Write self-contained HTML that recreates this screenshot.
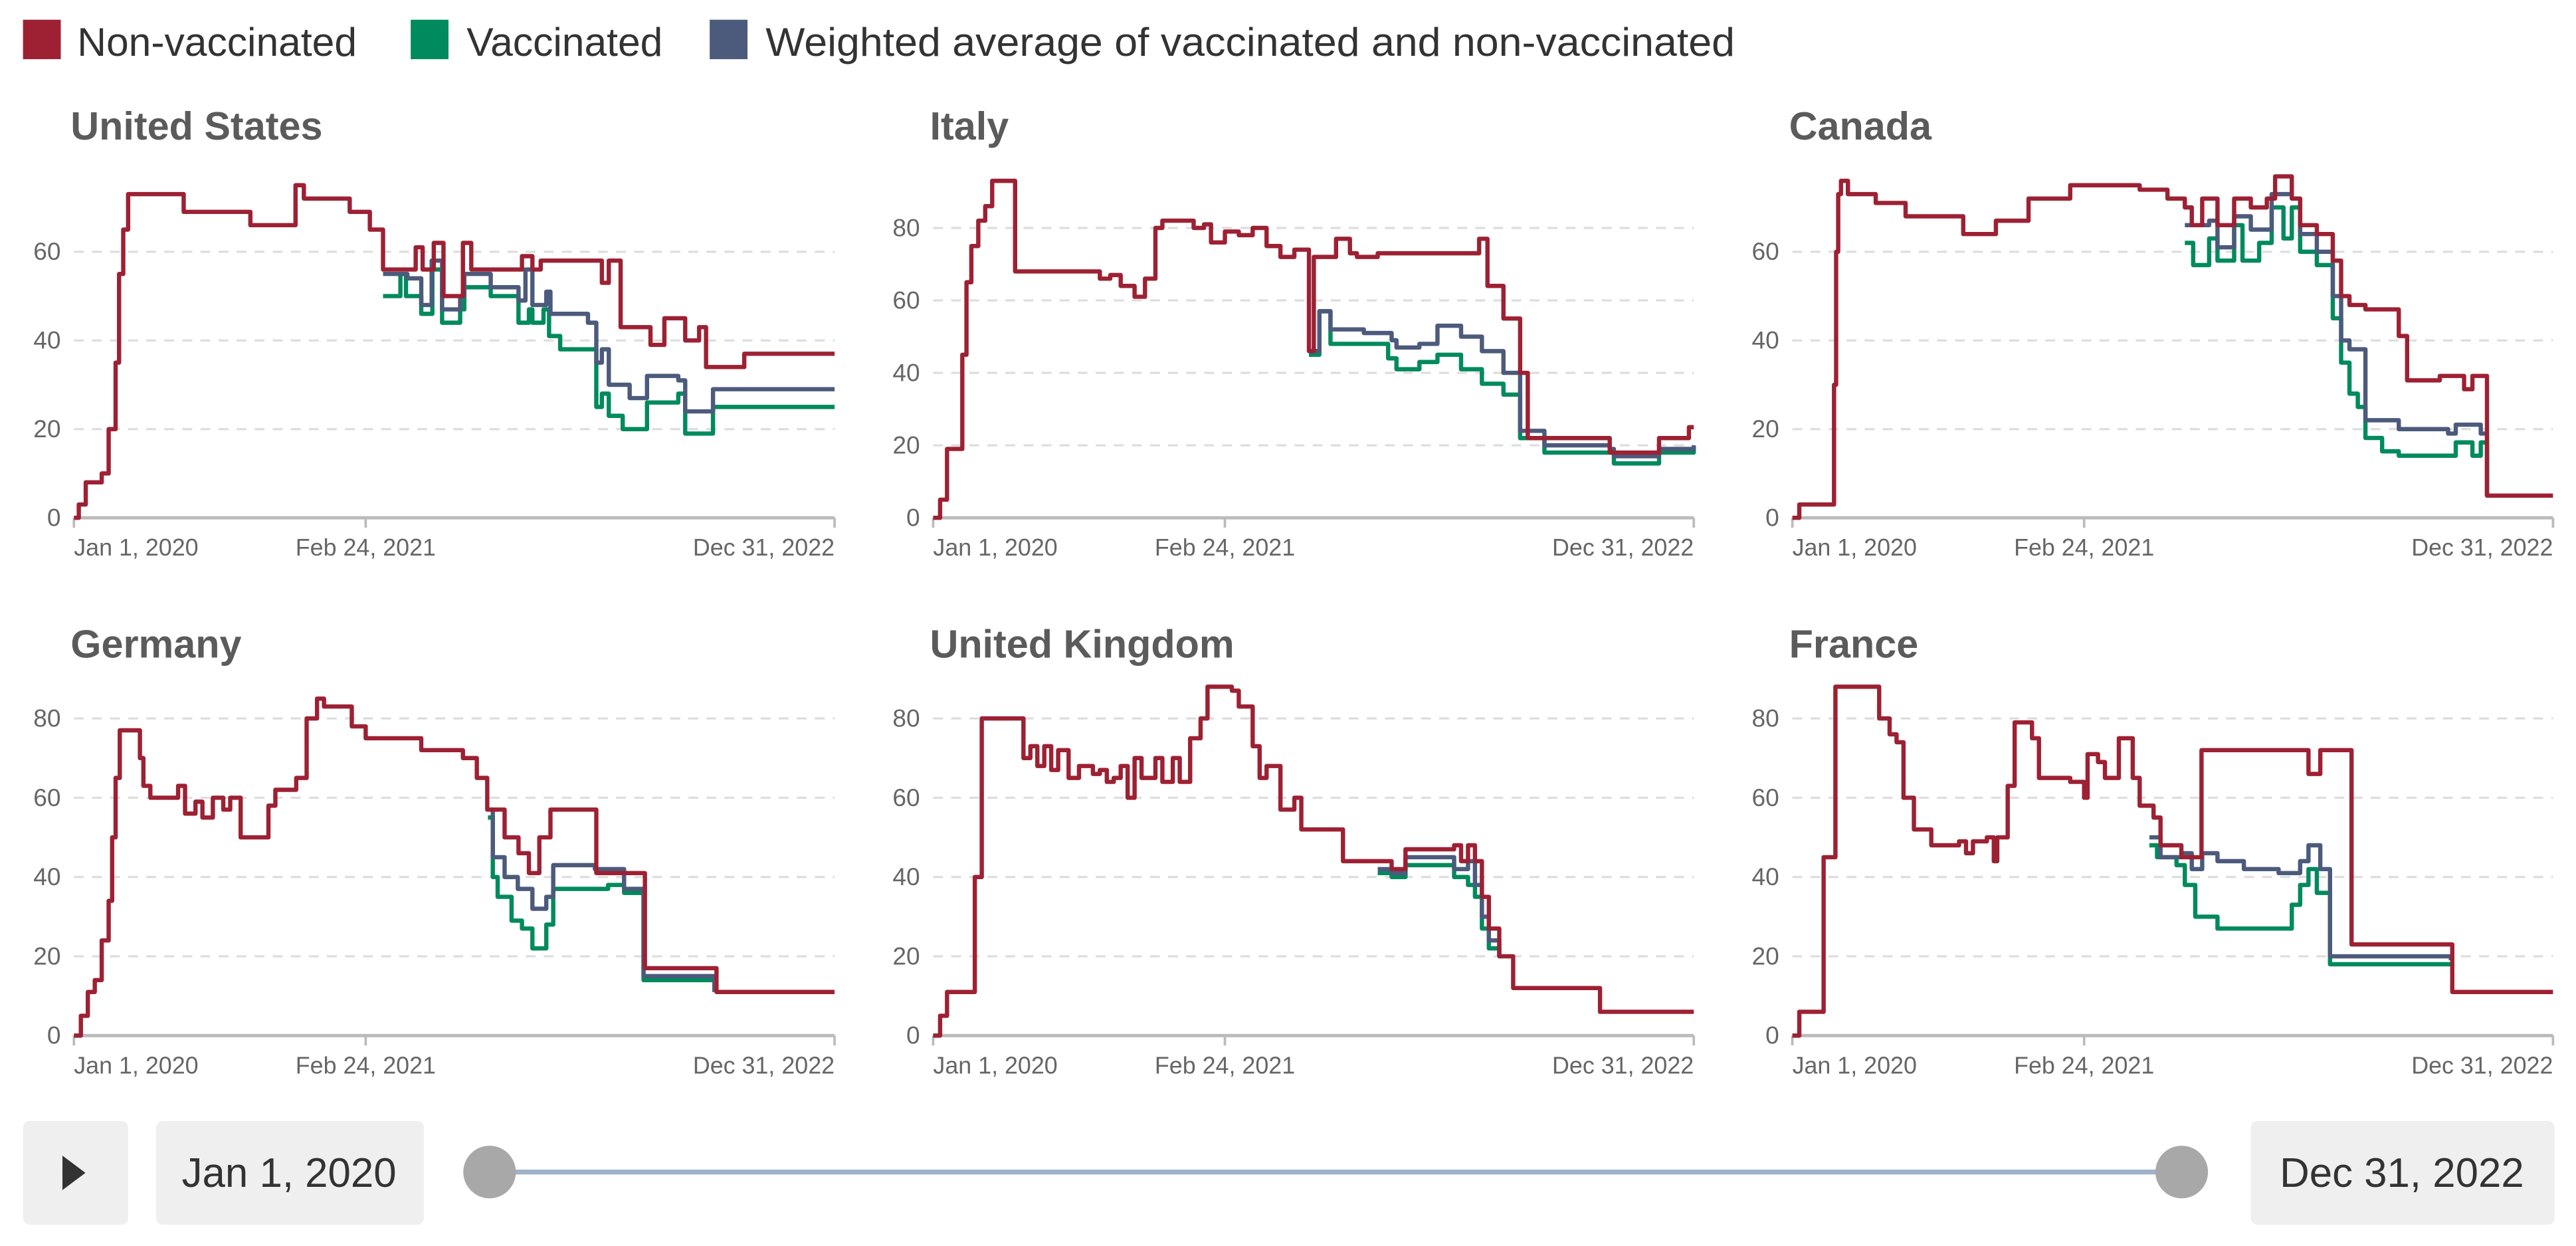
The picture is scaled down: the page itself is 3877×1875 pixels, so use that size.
<!DOCTYPE html>
<html><head><meta charset="utf-8"><style>
html,body{margin:0;padding:0;background:#fff;}
svg{display:block;font-family:"Liberation Sans",sans-serif;}
</style></head><body>
<svg id="chart" width="3877" height="1875" viewBox="0 0 1568 758" preserveAspectRatio="none" xmlns="http://www.w3.org/2000/svg">
<g>
<rect x="14" y="12" width="23" height="24" fill="#9d2133"/>
<text x="47" y="34" font-size="24.5" fill="#333">Non-vaccinated</text>
<rect x="250" y="12" width="23" height="24" fill="#008a5e"/>
<text x="284" y="34" font-size="24.5" fill="#333">Vaccinated</text>
<rect x="432" y="12" width="23" height="24" fill="#4c5a7c"/>
<text x="466" y="34" font-size="24.5" fill="#333" textLength="590" lengthAdjust="spacingAndGlyphs">Weighted average of vaccinated and non-vaccinated</text>
</g>
<g id="panels"></g>
<g>
<rect x="14" y="682" width="64" height="63" rx="4" fill="#efefef"/>
<path d="M38 703 L52 713.5 L38 724 Z" fill="#333"/>
<rect x="95" y="682" width="163" height="63" rx="4" fill="#efefef"/>
<text x="176" y="722" font-size="25" fill="#333" text-anchor="middle">Jan 1, 2020</text>
<line x1="298" y1="713" x2="1328" y2="713" stroke="#9fb3c8" stroke-width="3"/>
<circle cx="298" cy="713" r="16" fill="#a8a8a8"/>
<circle cx="1328" cy="713" r="16" fill="#a8a8a8"/>
<rect x="1370" y="682" width="185" height="63" rx="4" fill="#efefef"/>
<text x="1462" y="722" font-size="25" fill="#333" text-anchor="middle">Dec 31, 2022</text>
</g>
</svg>
<script>
const TOTAL_DAYS = 1095;
const countries = ["United States","Italy","Canada","Germany","United Kingdom","France"];
const yMaxes = [76, 93, 76, 85, 85, 85];
const yTickSets = [[0,20,40,60],[0,20,40,60,80],[0,20,40,60],[0,20,40,60,80],[0,20,40,60,80],[0,20,40,60,80]];
const xTickDays = [0, 420, 1095];
const xTickLabels = ["Jan 1, 2020","Feb 24, 2021","Dec 31, 2022"];

// [day, value] step series
const usNon = [[0,0],[7,3],[17,8],[40,10],[50,20],[60,35],[65,55],[71,65],[78,73],[158,69],[254,66],[319,75],[331,72],[397,69],[426,65],[445,56],[492,61],[502,56],[518,62],[532,50],[560,62],[572,56],[620,56],[645,59],[660,56],[672,58],[760,53],[770,58],[787,43],[830,39],[850,45],[880,40],[900,43],[910,34],[965,37],[1095,37]];
const usVac = [[445,50],[470,55],[478,50],[500,46],[516,56],[530,44],[556,47],[562,52],[600,50],[640,44],[655,47],[660,44],[676,47],[684,41],[700,38],[752,25],[760,28],[770,23],[790,20],[825,26],[870,28],[880,19],[920,25],[1095,25]];
const usWt = [[445,55],[480,54],[500,48],[515,58],[530,47],[556,50],[562,55],[600,52],[640,49],[650,56],[660,48],[680,51],[686,46],[740,44],[752,35],[760,38],[770,30],[800,27],[825,32],[870,31],[880,24],[920,29],[1095,29]];

const itNon = [[0,0],[10,5],[20,19],[42,45],[48,65],[55,75],[65,82],[75,86],[85,93],[112,93],[118,68],[240,66],[255,67],[270,64],[290,61],[305,66],[320,80],[330,82],[375,80],[390,81],[400,76],[420,79],[440,78],[460,80],[480,75],[500,72],[520,74],[541,46],[548,72],[560,72],[580,77],[600,73],[610,72],[640,73],[700,73],[786,77],[798,64],[821,55],[845,40],[856,22],[974,18],[1045,22],[1088,25],[1095,25]];
const itVac = [[541,45],[556,57],[572,48],[620,48],[655,44],[667,41],[700,43],[726,45],[760,41],[790,37],[821,34],[845,22],[880,18],[974,18],[980,15],[1045,18],[1095,19]];
const itWt = [[541,46],[556,57],[572,52],[620,51],[660,49],[667,47],[700,48],[726,53],[760,50],[790,46],[821,40],[845,24],[880,20],[974,19],[980,17],[1045,19],[1095,20]];

const caNon = [[0,0],[10,3],[55,3],[60,30],[63,60],[66,73],[70,76],[80,73],[120,71],[163,68],[246,64],[293,67],[340,72],[400,75],[500,74],[540,72],[565,70],[575,66],[590,72],[612,66],[636,72],[660,70],[683,72],[695,77],[719,72],[731,66],[755,64],[778,58],[790,50],[802,48],[825,47],[873,41],[885,31],[932,32],[967,29],[979,32],[1000,5],[1095,5]];
const caVac = [[565,62],[577,57],[600,63],[612,58],[636,66],[648,58],[672,62],[690,70],[707,63],[719,70],[731,60],[755,57],[778,45],[790,35],[802,28],[814,25],[825,18],[849,15],[873,14],[944,14],[955,17],[979,14],[991,17],[1000,5]];
const caWt = [[565,66],[600,67],[612,61],[636,68],[660,65],[690,73],[719,72],[731,64],[755,60],[778,50],[790,40],[802,38],[825,22],[873,20],[944,19],[955,21],[991,19],[1000,5]];

const deNon = [[0,0],[10,5],[20,11],[30,14],[40,24],[50,34],[55,50],[60,65],[66,77],[95,70],[100,63],[110,60],[150,63],[160,56],[175,59],[185,55],[200,60],[215,57],[225,60],[240,50],[280,58],[290,62],[320,65],[335,80],[350,85],[360,83],[400,78],[420,75],[500,72],[560,70],[580,65],[595,57],[620,50],[640,46],[655,41],[670,50],[686,57],[750,57],[752,41],[820,41],[822,17],[922,17],[925,11],[1095,11]];
const deVac = [[596,55],[603,40],[610,35],[630,29],[645,27],[660,22],[680,28],[690,37],[750,37],[769,38],[792,36],[820,14],[922,11]];
const deWt = [[596,57],[603,45],[620,40],[639,37],[660,32],[680,35],[690,43],[750,42],[792,37],[820,15],[922,11]];

const ukNon = [[0,0],[10,5],[20,11],[50,11],[60,40],[70,80],[120,80],[130,70],[140,73],[150,68],[160,73],[170,67],[180,72],[195,65],[210,68],[230,66],[240,67],[250,64],[260,65],[270,68],[280,60],[290,70],[300,65],[320,70],[330,64],[345,70],[355,64],[370,75],[385,80],[395,88],[430,87],[440,83],[460,73],[470,65],[480,68],[500,57],[520,60],[530,52],[570,52],[590,44],[650,44],[660,42],[680,47],[740,47],[750,48],[760,44],[770,48],[780,44],[790,35],[800,27],[815,20],[835,12],[950,12],[960,6],[1095,6]];
const ukVac = [[640,41],[660,40],[680,43],[740,43],[750,40],[770,38],[780,35],[790,27],[800,22],[815,20]];
const ukWt = [[640,42],[660,41],[680,45],[740,45],[750,42],[770,44],[780,38],[790,30],[800,24],[815,20]];

const frNon = [[0,0],[10,6],[40,6],[45,45],[55,45],[62,88],[120,88],[125,80],[140,76],[150,74],[160,60],[175,52],[200,48],[240,49],[250,46],[260,49],[280,50],[290,44],[295,50],[310,63],[320,79],[345,75],[355,65],[400,64],[420,60],[425,71],[440,69],[450,65],[470,75],[490,65],[500,58],[520,55],[530,48],[560,45],[589,72],[740,72],[743,66],[760,72],[802,72],[805,23],[948,23],[950,11],[1095,11]];
const frVac = [[514,48],[525,45],[553,43],[565,38],[580,30],[612,27],[707,27],[719,33],[731,38],[743,42],[755,36],[774,18],[948,18]];
const frWt = [[514,50],[530,45],[560,46],[575,42],[590,46],[612,44],[650,42],[700,41],[731,44],[743,48],[760,42],[774,20],[948,19]];

const nonSeries = [usNon, itNon, caNon, deNon, ukNon, frNon];
const vacSeries = [usVac, itVac, caVac, deVac, ukVac, frVac];
const wtSeries = [usWt, itWt, caWt, deWt, ukWt, frWt];

const NS = "http://www.w3.org/2000/svg";
const root = document.getElementById("panels");
const colX = [45, 568, 1091], plotW = 463;
const rowBase = [315, 630], plotH = 205;
function mk(tag, attrs, parent){const e=document.createElementNS(NS,tag);for(const k in attrs)e.setAttribute(k,attrs[k]);parent.appendChild(e);return e;}
function slug(s){return s.toLowerCase().replace(/\s+/g,'-');}

countries.forEach((c,i)=>{
  const x0 = colX[i%3], y0 = rowBase[Math.floor(i/3)];
  const xs = d => x0 + d/TOTAL_DAYS*plotW;
  const ys = v => y0 - v/yMaxes[i]*plotH;
  const g = mk("g",{},root);
  
  
  const t = mk("text",{x:x0-2,y:y0-230,"font-size":24,"font-weight":"bold",fill:"#5b5b5b"},g);
  t.textContent = c;
  
  
  yTickSets[i].forEach(v=>{
    if(v>0){
      const gl = mk("line",{x1:x0,x2:x0+plotW,y1:ys(v),y2:ys(v),stroke:"#ddd","stroke-width":1.3,"stroke-dasharray":"6,5"},g);
      
      
    }
    const tl = mk("text",{x:x0-8,y:ys(v)+5,"font-size":15,fill:"#666","text-anchor":"end"},g);
    tl.textContent = v;
    
    
  });
  const ax = mk("line",{x1:x0,x2:x0+plotW,y1:y0,y2:y0,stroke:"#bbb","stroke-width":2},g);
  
  
  xTickDays.forEach((d,k)=>{
    const tk = mk("line",{x1:xs(d),x2:xs(d),y1:y0,y2:y0+6,stroke:"#bbb","stroke-width":1.5},g);
    
    
    const anchor = k===0?"start":(k===xTickDays.length-1?"end":"middle");
    const lb = mk("text",{x:xs(d),y:y0+23,"font-size":14.5,fill:"#666","text-anchor":anchor},g);
    lb.textContent = xTickLabels[k];
    
    
  });
  const draw = (data, color, name)=>{
    let d = "M"+xs(data[0][0])+" "+ys(data[0][1]);
    for(let j=1;j<data.length;j++){ d += " H"+xs(data[j][0])+" V"+ys(data[j][1]); }
    const p = mk("path",{d:d,fill:"none",stroke:color,"stroke-width":2.6,"stroke-linejoin":"round"},g);
    
    
  };
  draw(vacSeries[i], "#008a5e", "vaccinated-line");
  draw(wtSeries[i], "#4c5a7c", "weighted-average-line");
  draw(nonSeries[i], "#9d2133", "non-vaccinated-line");
});
</script>
</body></html>
